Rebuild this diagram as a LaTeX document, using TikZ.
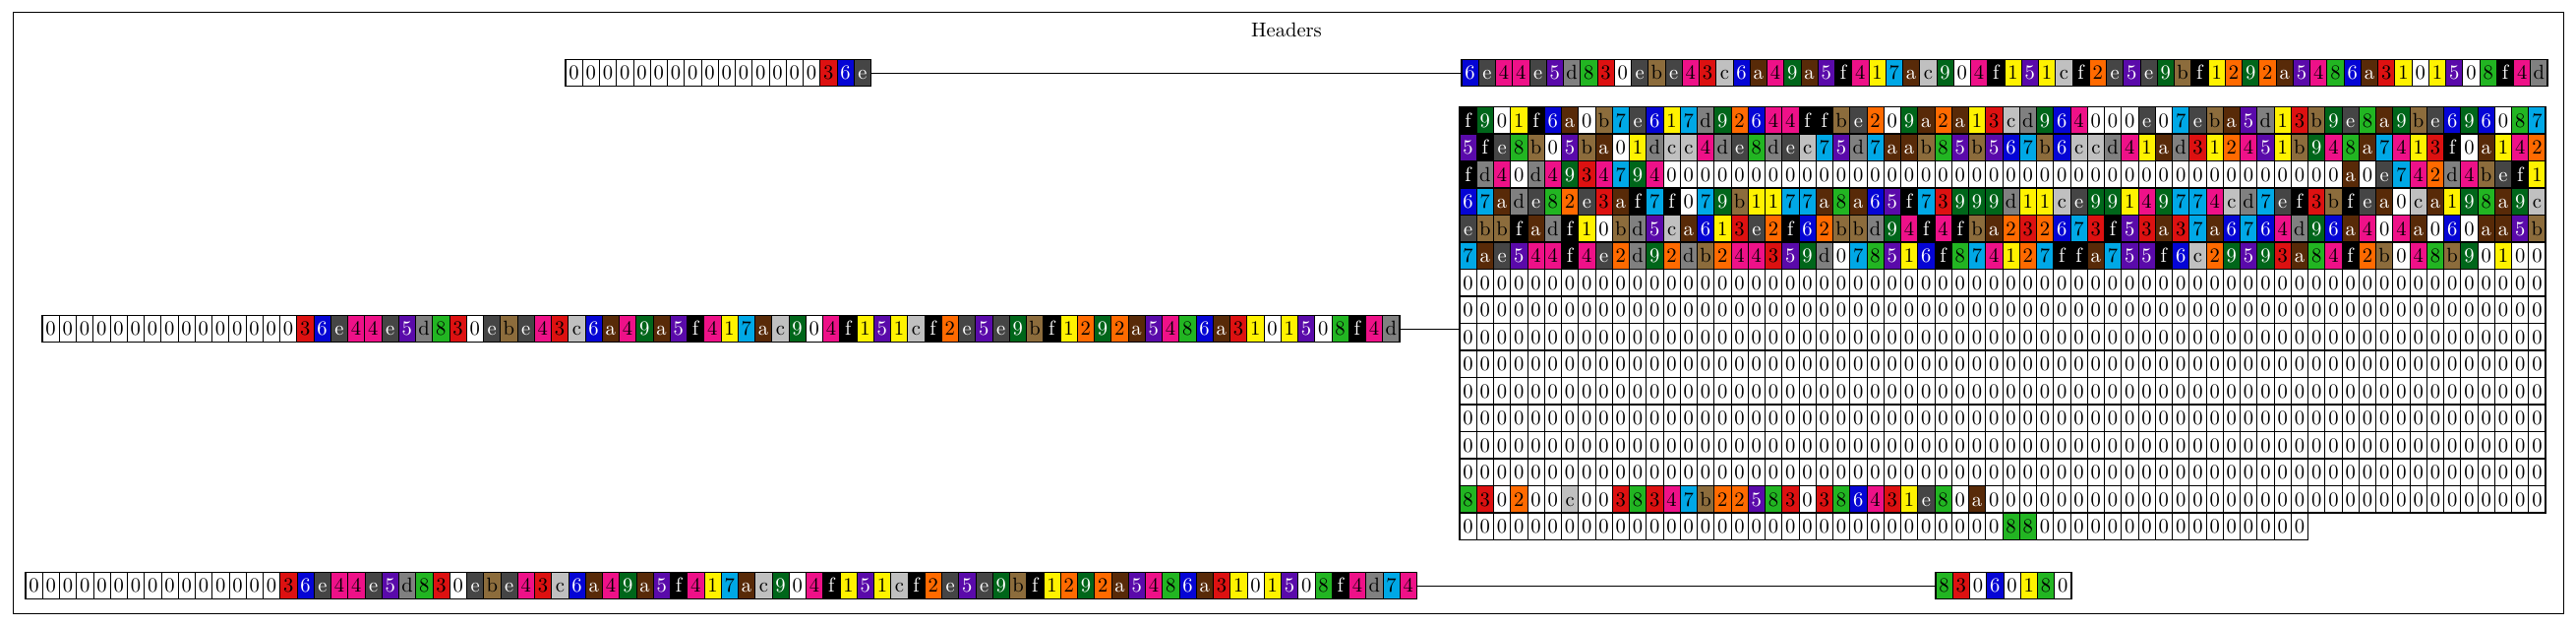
\documentclass[tikz,border=0pt]{standalone}
\usepackage{tikz}
\usetikzlibrary{positioning}

\definecolor{hexyellow}{HTML}{FFF200}
\definecolor{hexorange}{HTML}{FF6A00}
\definecolor{hexred}{HTML}{DD1111}
\definecolor{hexpink}{HTML}{EE1188}
\definecolor{hexpurple}{HTML}{5A0AAA}
\definecolor{hexblue}{HTML}{0505D5}
\definecolor{hexsky}{HTML}{00A8E6}
\definecolor{hexgreen}{HTML}{22B522}
\definecolor{hexforest}{HTML}{00661A}
\definecolor{hexbrown}{HTML}{582A08}
\definecolor{hextan}{HTML}{8C6C3C}
\definecolor{hexsilver}{HTML}{C0C0C0}
\definecolor{hexgray}{HTML}{808080}
\definecolor{hexslate}{HTML}{454545}

\tikzset{
  hexcell/.style={draw,line width=0.5pt,minimum width=8.625pt,minimum height=13.75pt,
    inner sep=0pt,outer sep=0pt,text height=0.68em,text depth=0pt},
  hx0/.style={fill=white},
  hx1/.style={fill=hexyellow},
  hx2/.style={fill=hexorange},
  hx3/.style={fill=hexred},
  hx4/.style={fill=hexpink},
  hx5/.style={fill=hexpurple,text=white},
  hx6/.style={fill=hexblue,text=white},
  hx7/.style={fill=hexsky},
  hx8/.style={fill=hexgreen},
  hx9/.style={fill=hexforest,text=white},
  hxa/.style={fill=hexbrown,text=white},
  hxb/.style={fill=hextan},
  hxc/.style={fill=hexsilver},
  hxd/.style={fill=hexgray},
  hxe/.style={fill=hexslate,text=white},
  hxf/.style={fill=black,text=white},
}

% one row of hex cells: name, west x, centre y, digits
\makeatletter
\newcount\hexi
\newcommand\hexrow[4]{%
  \def\hex@name{#1}\def\hex@x{#2}\def\hex@y{#3}\hexi=0
  \edef\hex@digits{#4}%
  \expandafter\hex@next\hex@digits\relax}
\def\hex@next#1{%
  \ifx#1\relax
    \edef\hex@do{\noexpand\draw[line width=0.7pt] (\hex@name-1.north west) rectangle (\hex@name-\the\hexi.south east);}\hex@do
  \else
    \edef\hex@prev{\hex@name-\the\hexi}%
    \advance\hexi by 1
    \ifnum\hexi=1
      \edef\hex@do{\noexpand\node[hexcell,hx#1,anchor=west] (\hex@name-1) at (\hex@x,\hex@y) {#1};}%
    \else
      \edef\hex@do{\noexpand\node[hexcell,hx#1,right=0pt of \hex@prev] (\hex@name-\the\hexi) {#1};}%
    \fi
    \hex@do
    \expandafter\hex@next
  \fi}
\makeatother

\def\zfive{00000}
\def\zten{\zfive\zfive}
\def\zfifteen{\zten\zfive}
\def\zsixteen{\zfifteen0}
\def\zrow{\zsixteen\zsixteen\zsixteen\zsixteen}
\def\hexdigest{6e44e5d830ebe43c6a49a5f417ac904f151cf2e5e9bf1292a5486a3101508f4d}

\begin{document}
\begin{tikzpicture}[x=0.5pt,y=-0.5pt,font=\fontsize{10.3}{12}\selectfont]
  \useasboundingbox (0,0) rectangle (2619,636);
  \draw[line width=0.5pt] (13,13) rectangle (2606,623);
  \node (title) at (1308,30) {Headers};

  % top pair
  \hexrow{short}{575}{74}{\zfifteen36e}
  \hexrow{digest}{1486}{74}{\hexdigest}
  \draw (short-18.east) -- (digest-1.west);

  % middle row and block grid
  \hexrow{wide}{43}{334}{\zfifteen3\hexdigest}
  \hexrow{blk1}{1484}{122.35}{f901f6a0b7e617d92644ffbe209a2a13cd964000e07eba5d13b9e8a9be696087}
  \hexrow{blk2}{1484}{149.85}{5fe8b05ba01dcc4de8dec75d7aab85b567b6ccd41ad312451b948a7413f0a142}
  \hexrow{blk3}{1484}{177.35}{fd40d4934794\zten\zten\zten\zten a0e742d4bef1}
  \hexrow{blk4}{1484}{204.85}{67ade82e3af7f079b1177a8a65f73999d11ce99149774cd7ef3bfea0ca198a9c}
  \hexrow{blk5}{1484}{232.35}{ebbfadf10bd5ca613e2f62bbd94f4fba232673f53a37a6764d96a404a060aa5b}
  \hexrow{blk6}{1484}{259.85}{7ae544f4e2d92db244359d078516f874127ffa755f6c29593a84f2b048b90100}
  \foreach \r in {7,...,14}{
    \hexrow{blk\r}{1484}{{108.6+(\r-0.5)*27.5}}{\zrow}
  }
  \hexrow{blk15}{1484}{507.35}{830200c0038347b225830386431e80a\zten\zten\zten000}
  \hexrow{blk16}{1484}{534.85}{\zsixteen\zsixteen88\zsixteen}
  \draw (wide-80.east) -- (wide-80.east -| blk9-1.west);

  % bottom pair
  \hexrow{full}{26}{595}{\zfifteen3\hexdigest74}
  \hexrow{num}{1968}{595}{83060180}
  \draw (full-82.east) -- (num-1.west);
\end{tikzpicture}
\end{document}
